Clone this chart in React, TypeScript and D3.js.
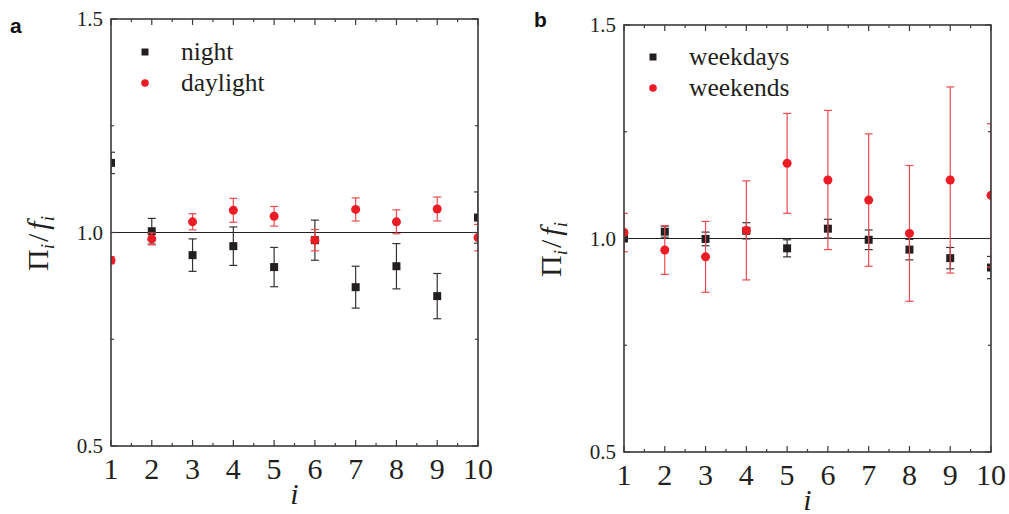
import React from "react";
import * as d3 from "d3";

const indices = [1, 2, 3, 4, 5, 6, 7, 8, 9, 10];
const yTickLabels = ["0.5", "1.0", "1.5"];

const nightVals = [1.163, 1.003, 0.947, 0.968, 0.919, 0.982, 0.872, 0.921, 0.851, 1.035];
const nightErr = [0.025, 0.03, 0.038, 0.045, 0.046, 0.047, 0.049, 0.053, 0.053, 0.06];
const dayVals = [0.935, 0.985, 1.025, 1.052, 1.038, 0.982, 1.054, 1.025, 1.055, 0.988];
const dayErr = [0.008, 0.014, 0.019, 0.028, 0.023, 0.025, 0.027, 0.028, 0.028, 0.031];

const weekdayVals = [1.0, 1.016, 0.999, 1.018, 0.977, 1.023, 0.997, 0.974, 0.954, 0.932];
const weekdayErr = [0.006, 0.013, 0.016, 0.019, 0.02, 0.022, 0.023, 0.024, 0.025, 0.026];
const weekendVals = [1.014, 0.973, 0.957, 1.019, 1.176, 1.137, 1.09, 1.012, 1.137, 1.101];
const weekendErr = [0.045, 0.057, 0.083, 0.116, 0.117, 0.163, 0.155, 0.159, 0.218, 0.168];

const BLACK = "#231f20";
const RED = "#ed1c24";
const SERIF = "'Liberation Serif', 'Times New Roman', serif";

type Series = { name: string; vals: number[]; errs: number[]; kind: "square" | "circle"; color: string };

function Panel(props: {
  id: string;
  letter: string;
  left: number;
  right: number;
  top: number;
  bottom: number;
  series: Series[];
  legendX: number;
  legendY: number;
  letterX: number;
  letterY: number;
}) {
  const { id, letter, left, right, top, bottom, series, legendX, legendY, letterX, letterY } = props;
  const x = d3.scaleLinear().domain([1, 10]).range([left, right]);
  const y = d3.scaleLinear().domain([0.5, 1.5]).range([bottom, top]);
  const xMajor = indices;
  const xMinor = d3.range(1.5, 10, 1);
  const yMajor = yTickLabels.map(Number);
  const yMinor = [0.75, 1.25];
  const axisColor = "#3a3a3a";
  const clipId = `clip-${id}`;
  return (
    <g>
      <defs>
        <clipPath id={clipId}>
          <rect x={left} y={top} width={right - left} height={bottom - top} />
        </clipPath>
      </defs>
      {/* reference line at 1.0 */}
      <line x1={left} x2={right} y1={y(1)} y2={y(1)} stroke={BLACK} strokeWidth={1} />
      {/* data */}
      <g clipPath={`url(#${clipId})`}>
        {series.map((s) =>
          indices.map((i, k) => {
            const cx = x(i);
            const cy = y(s.vals[k]);
            const y1 = y(s.vals[k] + s.errs[k]);
            const y2 = y(s.vals[k] - s.errs[k]);
            const stroke = s.kind === "circle" ? "#ef4a4f" : "#333";
            return (
              <g key={s.name + i}>
                <line x1={cx} x2={cx} y1={y1} y2={y2} stroke={stroke} strokeWidth={1.2} />
                <line x1={cx - 4} x2={cx + 4} y1={y1} y2={y1} stroke={stroke} strokeWidth={1.2} />
                <line x1={cx - 4} x2={cx + 4} y1={y2} y2={y2} stroke={stroke} strokeWidth={1.2} />
                {s.kind === "square" ? (
                  <rect x={cx - 4} y={cy - 4} width={8} height={8} fill={s.color} />
                ) : (
                  <circle cx={cx} cy={cy} r={4.5} fill={s.color} />
                )}
              </g>
            );
          })
        )}
      </g>
      {/* frame */}
      <rect x={left} y={top} width={right - left} height={bottom - top} fill="none" stroke={axisColor} strokeWidth={1.6} />
      {/* x ticks bottom & top */}
      {xMajor.map((v) => (
        <g key={"xm" + v}>
          <line x1={x(v)} x2={x(v)} y1={bottom} y2={bottom - 6} stroke={axisColor} strokeWidth={1.2} />
          <line x1={x(v)} x2={x(v)} y1={top} y2={top + 6} stroke={axisColor} strokeWidth={1.2} />
          <text x={x(v)} y={bottom + 33} textAnchor="middle" fontFamily={SERIF} fontSize={30} fill="#231f20">
            {v}
          </text>
        </g>
      ))}
      {xMinor.map((v) => (
        <g key={"xn" + v}>
          <line x1={x(v)} x2={x(v)} y1={bottom} y2={bottom - 3} stroke={axisColor} strokeWidth={1.2} />
          <line x1={x(v)} x2={x(v)} y1={top} y2={top + 3} stroke={axisColor} strokeWidth={1.2} />
        </g>
      ))}
      {/* y ticks left & right */}
      {yMajor.map((v, k) => (
        <g key={"ym" + v}>
          <line x1={left} x2={left + 6} y1={y(v)} y2={y(v)} stroke={axisColor} strokeWidth={1.2} />
          <line x1={right} x2={right - 6} y1={y(v)} y2={y(v)} stroke={axisColor} strokeWidth={1.2} />
          <text x={left - 8} y={y(v) + 7} textAnchor="end" fontFamily={SERIF} fontSize={21} fill="#231f20">
            {yTickLabels[k]}
          </text>
        </g>
      ))}
      {yMinor.map((v) => (
        <g key={"yn" + v}>
          <line x1={left} x2={left + 3} y1={y(v)} y2={y(v)} stroke={axisColor} strokeWidth={1.2} />
          <line x1={right} x2={right - 3} y1={y(v)} y2={y(v)} stroke={axisColor} strokeWidth={1.2} />
        </g>
      ))}
      {/* axis titles */}
      <text x={(left + right) / 2} y={bottom + 58} textAnchor="middle" fontFamily={SERIF} fontStyle="italic" fontSize={30} fill="#231f20">
        i
      </text>
      <text
        transform={`translate(${left - 63},${y(1) + 11}) rotate(-90)`}
        textAnchor="middle"
        fontFamily={SERIF}
        fontSize={30}
        fill="#231f20"
      >
        Π<tspan fontStyle="italic" fontSize={19} dy={6}>i</tspan>
        <tspan dy={-6} dx={2}>/</tspan>
        <tspan fontStyle="italic" dx={4}>f</tspan>
        <tspan fontStyle="italic" fontSize={19} dy={6}>i</tspan>
      </text>
      {/* legend */}
      {series.map((s, k) => {
        const ly = legendY + k * 31;
        return (
          <g key={"lg" + s.name}>
            {s.kind === "square" ? (
              <rect x={legendX - 3.5} y={ly - 3.5} width={7} height={7} fill={s.color} />
            ) : (
              <circle cx={legendX} cy={ly} r={3.8} fill={s.color} />
            )}
            <text x={legendX + 36} y={ly + 8} fontFamily={SERIF} fontSize={25.5} fill="#231f20">
              {s.name}
            </text>
          </g>
        );
      })}
      <text x={letterX} y={letterY} fontFamily="'Liberation Sans', Arial, sans-serif" fontWeight="bold" fontSize={21} fill="#111">
        {letter}
      </text>
    </g>
  );
}

export default function App() {
  const seriesA: Series[] = [
    { name: "night", vals: nightVals, errs: nightErr, kind: "square", color: BLACK },
    { name: "daylight", vals: dayVals, errs: dayErr, kind: "circle", color: RED },
  ];
  const seriesB: Series[] = [
    { name: "weekdays", vals: weekdayVals, errs: weekdayErr, kind: "square", color: BLACK },
    { name: "weekends", vals: weekendVals, errs: weekendErr, kind: "circle", color: RED },
  ];
  return (
    <svg width={1009} height={514} style={{ position: "absolute", left: 0, top: 0, background: "#fff" }}>
      <rect width={1009} height={514} fill="#fff" />
      <Panel id="a" letter="a" left={111} right={478} top={19} bottom={446} series={seriesA} legendX={145} legendY={52} letterX={10} letterY={33} />
      <Panel id="b" letter="b" left={624} right={991} top={25} bottom={452} series={seriesB} legendX={653} legendY={57} letterX={534} letterY={27} />
    </svg>
  );
}
